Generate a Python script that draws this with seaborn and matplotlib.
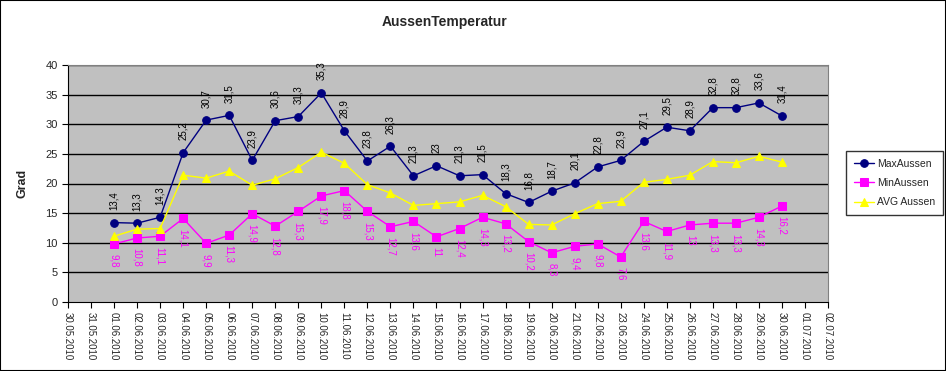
import matplotlib
matplotlib.use("Agg")
import matplotlib.pyplot as plt
import matplotlib.dates as mdates
from matplotlib.patches import Rectangle
import seaborn as sns
import pandas as pd

# data (01.06.2010 - 30.06.2010)
days = pd.date_range("2010-06-01", "2010-06-30", freq="D")
max_aussen = [13.4, 13.3, 14.3, 25.2, 30.7, 31.5, 23.9, 30.6, 31.3, 35.3,
              28.9, 23.8, 26.3, 21.3, 23, 21.3, 21.5, 18.3, 16.8, 18.7,
              20.1, 22.8, 23.9, 27.1, 29.5, 28.9, 32.8, 32.8, 33.6, 31.4]
min_aussen = [9.8, 10.8, 11.1, 14.1, 9.9, 11.3, 14.9, 12.8, 15.3, 17.9,
              18.8, 15.3, 12.7, 13.6, 11, 12.4, 14.3, 13.2, 10.2, 8.3,
              9.4, 9.8, 7.6, 13.6, 11.9, 13, 13.3, 13.3, 14.3, 16.2]
avg_aussen = [11.1, 12.3, 12.4, 21.4, 20.9, 22.1, 19.7, 20.8, 22.7, 25.3,
              23.4, 19.8, 18.4, 16.3, 16.6, 16.9, 18.0, 16.1, 13.1, 13.0,
              14.9, 16.6, 17.0, 20.2, 20.7, 21.4, 23.7, 23.5, 24.6, 23.6]

df = pd.DataFrame({"Datum": days, "MaxAussen": max_aussen,
                   "MinAussen": min_aussen, "AVG Aussen": avg_aussen})

sns.set_style("white")
plt.rcParams['font.family'] = ['Liberation Sans', 'DejaVu Sans']

fig = plt.figure(figsize=(9.46, 3.71), dpi=100)
ax = fig.add_axes([68/946, 1-302/371, 760/946, 237/371])
ax.set_facecolor("#c0c0c0")

# horizontal grid lines
for y in range(5, 41, 5):
    ax.axhline(y, color="black", lw=1, zorder=1)

sns.lineplot(data=df, x="Datum", y="MaxAussen", ax=ax, color="#000080", lw=1,
             marker="o", markersize=5.5, markeredgecolor="#000080", label="MaxAussen", zorder=3)
sns.lineplot(data=df, x="Datum", y="MinAussen", ax=ax, color="#ff00ff", lw=1,
             marker="s", markersize=5.5, markeredgecolor="#ff00ff", label="MinAussen", zorder=3)
sns.lineplot(data=df, x="Datum", y="AVG Aussen", ax=ax, color="#ffff00", lw=1,
             marker="^", markersize=5.5, markeredgecolor="#ffff00", label="AVG Aussen", zorder=3)

# data labels (decimal comma like the original)
for d, v in zip(days, max_aussen):
    ax.annotate(f"{v:g}".replace(".", ","), (d, v), xytext=(0, 9), textcoords="offset points",
                rotation=90, ha="center", va="bottom", fontsize=7, color="black")
for d, v in zip(days, min_aussen):
    ax.annotate(f"{v:g}".replace(".", ","), (d, v), xytext=(0, -7.5), textcoords="offset points",
                rotation=-90, ha="center", va="top", fontsize=7, color="#ff00ff")

ax.set_ylim(0, 40)
ax.set_yticks(range(0, 41, 5))
ax.set_xlim(pd.Timestamp("2010-05-30"), pd.Timestamp("2010-07-02"))
ax.xaxis.set_major_locator(mdates.DayLocator())
ax.xaxis.set_major_formatter(mdates.DateFormatter("%d.%m.%Y"))
ax.tick_params(axis="x", labelrotation=-90, labelsize=7, length=4, color="black", direction="out", bottom=True)
ax.tick_params(axis="y", labelsize=8, length=4, color="black", direction="out", left=True)
for lab in ax.get_xticklabels():
    lab.set_horizontalalignment("center")

for s in ax.spines.values():
    s.set_color("#808080")
ax.spines["left"].set_color("black")
ax.spines["bottom"].set_color("black")

ax.set_xlabel("")
ax.set_ylabel("Grad", fontsize=9, fontweight="bold", labelpad=12)
fig.text(445/946, 1-22/371, "AussenTemperatur", ha="center", va="center",
         fontsize=10, fontweight="bold")

ax.get_legend().remove()
h, l = ax.get_legend_handles_labels()
leg = fig.legend(h, l, loc="center left", bbox_to_anchor=(841/946, 1-183/371),
                 fontsize=7.5, frameon=True, fancybox=False, edgecolor="black",
                 handlelength=2.0, borderpad=0.7, labelspacing=0.9, handletextpad=0.3)
leg.get_frame().set_linewidth(1)

fig.patches.append(Rectangle((0, 0), 1, 1, transform=fig.transFigure, fill=False,
                             edgecolor="black", lw=1.5))

fig.savefig("out.png", dpi=100)
